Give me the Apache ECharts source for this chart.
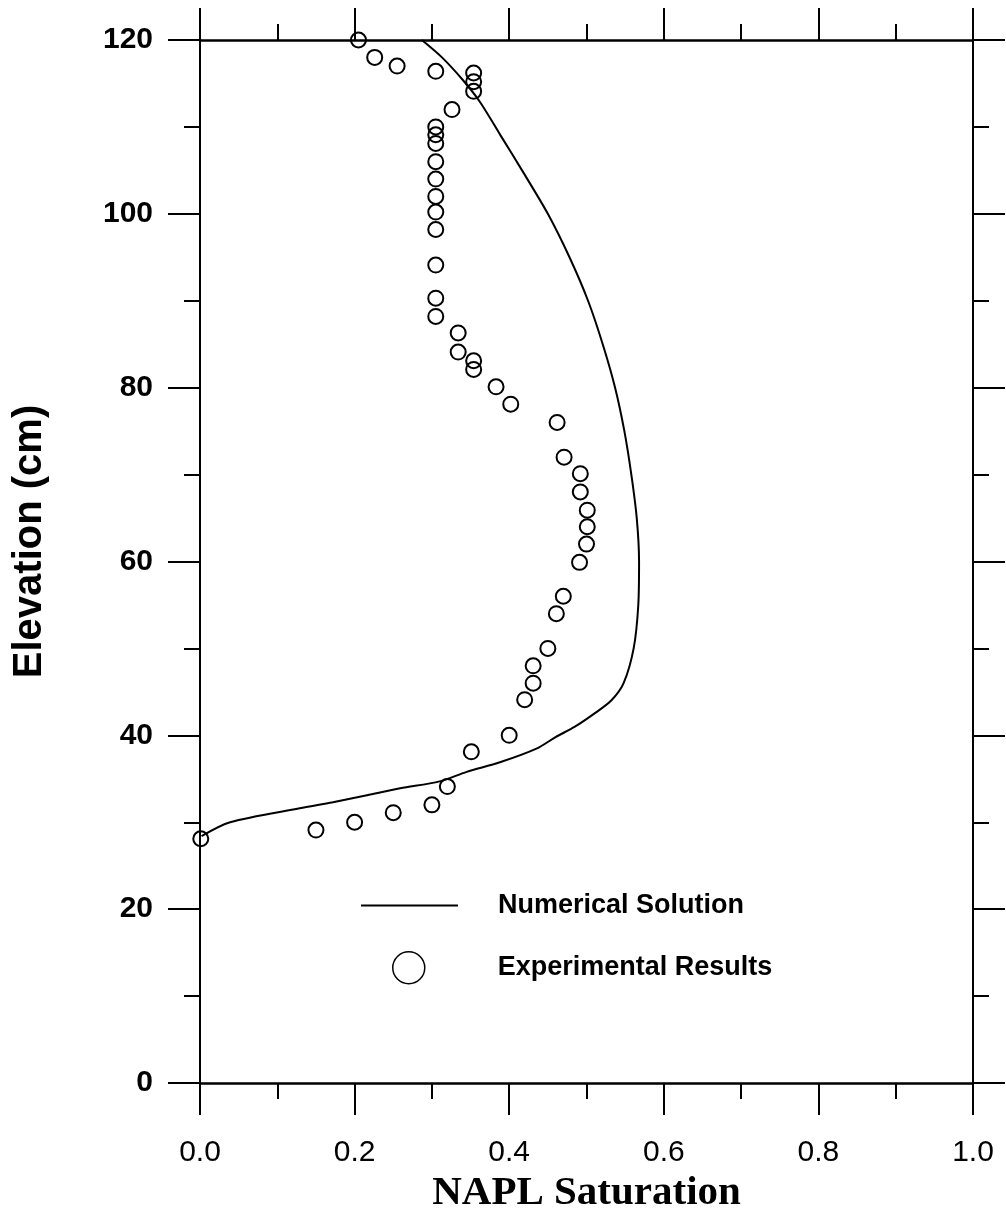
<!DOCTYPE html>
<html>
<head>
<meta charset="utf-8">
<script src="https://cdn.jsdelivr.net/npm/echarts@6/dist/echarts.min.js"></script>
<style>
html,body{margin:0;padding:0;background:#fff;}
#chart{width:1006px;height:1220px;}
</style>
</head>
<body>
<div id="chart"></div>
<script>
// Experimental results (NAPL saturation vs elevation)
var expSat = [0.205,0.226,0.255,0.305,0.354,0.354,0.354,0.326,0.305,0.305,0.305,0.305,0.305,0.305,0.305,0.305,0.305,0.305,0.305,
              0.334,0.334,0.354,0.354,0.383,0.402,0.462,0.471,0.492,0.492,0.501,0.501,0.500,0.491,0.470,0.461,0.450,0.431,0.431,0.420,
              0.400,0.351,0.320,0.300,0.250,0.200,0.150,0.001];
var expElev = [120,118,117,116.4,116.2,115.2,114.1,112,110,109.1,108.1,106,104,102,100.2,98.2,94.1,90.3,88.2,
               86.3,84.1,83.1,82.1,80.1,78.1,76,72,70.1,68,65.9,64,62,59.9,56,54,50,48,46,44.1,
               40,38.1,34.1,32,31.1,30,29.1,28.1];
// Numerical solution curve
var numSat = [0.287,0.313,0.340,0.362,0.389,0.418,0.450,0.478,0.502,0.521,0.537,0.549,0.558,0.565,0.568,0.567,0.561,0.548,0.532,0.510,
              0.485,0.460,0.436,0.388,0.345,0.310,0.259,0.216,0.172,0.129,0.039,0.002];
var numElev = [120,118,115.4,112.9,109,104.8,100,95,90,85,80,75,70,65,60,55,50,46,44,42.5,
               41,39.8,38.5,36.9,35.8,34.7,33.9,33.1,32.3,31.6,30.0,28.4];
// Axis ticks
var xTicks = {min:0, max:1, interval:0.2};
var yTicks = {min:0, max:120, interval:20};
var seriesNames = ['Numerical Solution','Experimental Results'];
var xTitle = 'NAPL Saturation';
var yTitle = 'Elevation (cm)';

function zip(a,b){ return a.map(function(v,i){ return [v,b[i]]; }); }

var chart = echarts.init(document.getElementById('chart'), null, {renderer:'canvas'});
function axisCommon(){
  return {
    axisLine:{show:true, onZero:false, lineStyle:{color:'#000', width:2}},
    axisTick:{show:true, inside:false, length:32, lineStyle:{color:'#000', width:2}},
    minorTick:{show:true, splitNumber:2, length:16, lineStyle:{color:'#000', width:2}},
    splitLine:{show:false},
    minorSplitLine:{show:false}
  };
}
var xBottom = Object.assign(axisCommon(), {
  type:'value', position:'bottom', min:xTicks.min, max:xTicks.max, interval:xTicks.interval,
  axisLabel:{show:true, margin:55, color:'#000', fontFamily:'Liberation Sans, Arial, sans-serif', fontSize:30, fontWeight:'normal',
             formatter:function(v){return v.toFixed(1);}},
  name:xTitle, nameLocation:'middle', nameGap:86,
  nameTextStyle:{color:'#000', fontFamily:'Liberation Serif, Times New Roman, serif', fontSize:41, fontWeight:'bold'}
});
xBottom.axisLine.lineStyle.width = 2.5;
var xTop = Object.assign(axisCommon(), {
  type:'value', position:'top', min:xTicks.min, max:xTicks.max, interval:xTicks.interval,
  axisLabel:{show:false}
});
xTop.axisLine.lineStyle.width = 2.5;
var yLeft = Object.assign(axisCommon(), {
  type:'value', position:'left', min:yTicks.min, max:yTicks.max, interval:yTicks.interval,
  axisLabel:{show:true, margin:47, color:'#000', fontFamily:'Liberation Sans, Arial, sans-serif', fontSize:30, fontWeight:'bold'},
  name:yTitle, nameLocation:'middle', nameGap:150, nameRotate:90,
  nameTextStyle:{color:'#000', fontFamily:'Liberation Sans, Arial, sans-serif', fontSize:40, fontWeight:'bold', padding:[0,0,0,40]}
});
var yRight = Object.assign(axisCommon(), {
  type:'value', position:'right', min:yTicks.min, max:yTicks.max, interval:yTicks.interval,
  axisLabel:{show:false}
});

var legendText = {color:'#000', fontFamily:'Liberation Sans, Arial, sans-serif', fontSize:27, fontWeight:'bold'};

chart.setOption({
  backgroundColor:'#fff',
  animation:false,
  grid:{left:200, right:33, top:40, bottom:137, containLabel:false, outerBoundsMode:'none'},
  xAxis:[xBottom, xTop],
  yAxis:[yLeft, yRight],
  legend:[
    {
      data:[{name:seriesNames[0]}],
      left:360, top:892, padding:0, orient:'vertical',
      itemWidth:97, itemHeight:26, selectedMode:false,
      itemStyle:{opacity:0},
      lineStyle:{color:'#000', width:2},
      textStyle:Object.assign({padding:[0,0,0,35]}, legendText)
    },
    {
      data:[{name:seriesNames[1], icon:'circle', itemStyle:{color:'rgba(0,0,0,0)', borderColor:'#000', borderWidth:1.5}}],
      left:392, top:951, padding:0, orient:'vertical',
      itemWidth:32, itemHeight:32, selectedMode:false,
      textStyle:Object.assign({padding:[0,0,0,68]}, legendText)
    }
  ],
  series:[
    {
      name:seriesNames[0], type:'line', xAxisIndex:0, yAxisIndex:0,
      data:zip(numSat,numElev), showSymbol:false, symbol:'none', smooth:0.3,
      lineStyle:{color:'#000', width:2}, itemStyle:{color:'#000'}, z:2
    },
    {
      name:seriesNames[1], type:'scatter', xAxisIndex:0, yAxisIndex:0,
      data:zip(expSat,expElev), symbol:'circle', symbolSize:15,
      itemStyle:{color:'rgba(0,0,0,0)', borderColor:'#000', borderWidth:2, opacity:1}, z:3
    }
  ]
});
</script>
</body>
</html>
